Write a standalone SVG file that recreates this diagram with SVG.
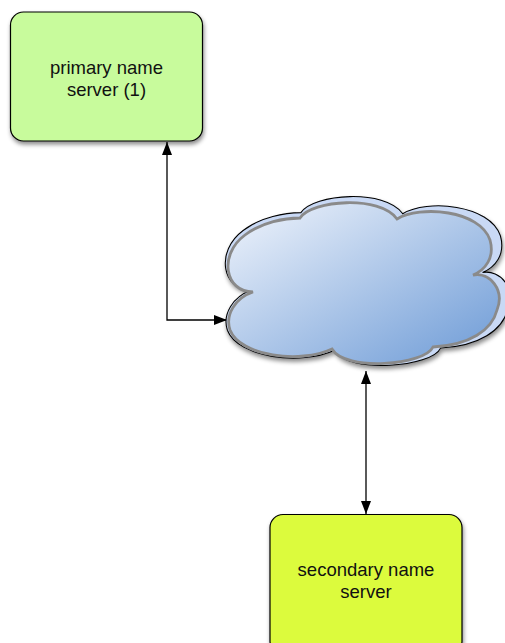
<svg xmlns="http://www.w3.org/2000/svg" width="505" height="643" viewBox="0 0 505 643">
  <defs>
    <style>
      .box { stroke: #000; stroke-width: 1.2; }
      .label { font-family: "Liberation Sans", Arial, sans-serif; font-size: 18.5px; fill: #111; text-anchor: middle; }
      .conn { fill: none; stroke: #000; stroke-width: 1.3; }
    </style>
    <filter id="shadow" x="-10%" y="-10%" width="125%" height="130%">
      <feDropShadow dx="1" dy="3" stdDeviation="2" flood-color="#000" flood-opacity="0.45"/>
    </filter>
    <linearGradient id="cloudGrad" x1="0" y1="0" x2="1" y2="1">
      <stop offset="0" stop-color="#f1f5fc"/>
      <stop offset="1" stop-color="#6c9ad6"/>
    </linearGradient>
    <marker id="arrow" markerUnits="userSpaceOnUse" markerWidth="14" markerHeight="11" refX="13" refY="5" orient="auto-start-reverse" viewBox="0 0 14 11">
      <path d="M0,0 L13,5 L0,10 Z" fill="#000"/>
    </marker>
    <path id="cloudShape" d="M253,292 C225,292 218,255 245,235 C262,222 285,218 300,218 C312,200 380,195 397,219 C420,205 480,210 490,240 C495,258 485,270 473,275 C490,272 505,290 497,310 C492,330 470,345 433,347 C425,365 345,372 332,349 C300,364 240,356 230,330 C225,315 235,298 253,292 Z"/>
  </defs>

  <g id="connectors">
    <path class="conn" d="M167,142 V320 H227" marker-start="url(#arrow)" marker-end="url(#arrow)"/>
    <path class="conn" d="M366,371 V514" marker-start="url(#arrow)" marker-end="url(#arrow)"/>
  </g>

  <g id="primary">
    <rect class="box" x="10.5" y="12" width="192" height="129" rx="13" fill="#c8fb9c" filter="url(#shadow)"/>
    <text class="label" x="106.5" y="74">primary name</text>
    <text class="label" x="106.5" y="96">server (1)</text>
  </g>

  <g id="cloud">
    <use href="#cloudShape" transform="translate(366,283) scale(1.05) translate(-362,-285)" fill="#c9d9f5" stroke="#000" stroke-width="1" filter="url(#shadow)"/>
    <use href="#cloudShape" fill="url(#cloudGrad)" stroke="#8a8a8a" stroke-width="2.8"/>
  </g>

  <g id="secondary">
    <rect class="box" x="270" y="514.5" width="192" height="140" rx="13" fill="#dcfb3c" filter="url(#shadow)"/>
    <text class="label" x="366" y="576">secondary name</text>
    <text class="label" x="366" y="598">server</text>
  </g>
</svg>
